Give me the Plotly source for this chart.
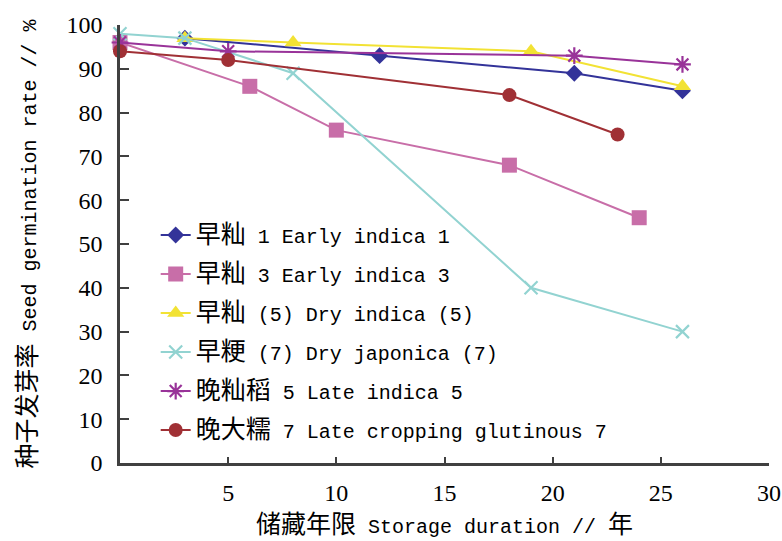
import plotly.graph_objects as go

# Storage duration (years) and seed germination rate (%) per cultivar
years_e1 = [3, 12, 21, 26]
rate_e1 = [97, 93, 89, 85]

years_e3 = [0, 6, 10, 18, 24]
rate_e3 = [96, 86, 76, 68, 56]

years_d5 = [3, 8, 19, 26]
rate_d5 = [97, 96, 94, 86]

years_dj7 = [0, 3, 8, 19, 26]
rate_dj7 = [98, 97, 89, 40, 30]

years_l5 = [0, 5, 21, 26]
rate_l5 = [96, 94, 93, 91]

years_lg7 = [0, 5, 18, 23]
rate_lg7 = [94, 92, 84, 75]

x_ticks = [5, 10, 15, 20, 25, 30]
y_ticks = [0, 10, 20, 30, 40, 50, 60, 70, 80, 90, 100]

LATIN = "Liberation Mono"
CJK_FONT = "Noto Sans CJK SC"
SERIF = "Liberation Serif"


def cjk(s, size=25):
    return f'<span style="font-size:{size}px">{s}</span>'


series = [
    (years_e1, rate_e1, cjk("早籼") + " 1 Early indica 1", "#333399",
     dict(symbol="diamond", size=13)),
    (years_e3, rate_e3, cjk("早籼") + " 3 Early indica 3", "#C86EA8",
     dict(symbol="square", size=15)),
    (years_d5, rate_d5, cjk("早籼") + " (5) Dry indica (5)", "#F2E234",
     dict(symbol="triangle-up", size=15)),
    (years_dj7, rate_dj7, cjk("早粳") + " (7) Dry japonica (7)", "#92D3D1",
     dict(symbol="x-thin", size=13, line=dict(width=2.2, color="#92D3D1"))),
    (years_l5, rate_l5, cjk("晚籼稻") + " 5 Late indica 5", "#993399",
     dict(symbol="asterisk", size=14, line=dict(width=2.2, color="#993399"))),
    (years_lg7, rate_lg7, cjk("晚大糯") + " 7 Late cropping glutinous 7", "#A03035",
     dict(symbol="circle", size=14)),
]

fig = go.Figure()
for i, (xs, ys, name, color, marker) in enumerate(series):
    fig.add_trace(go.Scatter(
        x=xs, y=ys, name=name, mode="lines+markers",
        line=dict(color=color, width=2),
        marker=dict(color=color, **marker),
        cliponaxis=False,
        legendgroup=f"g{i}",
    ))

fig.update_layout(
    width=782, height=541,
    margin=dict(l=120, r=13, t=25, b=78),
    paper_bgcolor="white", plot_bgcolor="white",
    font=dict(family=f"{LATIN}, {CJK_FONT}", size=20, color="black"),
    showlegend=True,
    legend=dict(
        x=0.055, y=0.565, xanchor="left", yanchor="top",
        bgcolor="rgba(0,0,0,0)", borderwidth=0,
        traceorder="grouped", tracegroupgap=10,
        font=dict(family=f"{LATIN}, {CJK_FONT}", size=20, color="black"),
    ),
    xaxis=dict(
        range=[0, 30], tickvals=x_ticks, ticktext=[str(v) for v in x_ticks],
        ticks="inside", ticklen=6, tickwidth=2, tickcolor="#404040",
        showline=True, linewidth=2.5, linecolor="#404040",
        showgrid=False, zeroline=False, automargin=False,
        tickfont=dict(family=SERIF, size=24, color="black"),
        ticklabelstandoff=6,
        title=dict(text=cjk("储藏年限") + " Storage duration // " + cjk("年"),
                   font=dict(family=f"{LATIN}, {CJK_FONT}", size=20, color="black"),
                   standoff=16),
    ),
    yaxis=dict(
        range=[0, 100], tickvals=y_ticks,
        ticks="inside", ticklen=9, tickwidth=2, tickcolor="#404040",
        showline=True, linewidth=2.5, linecolor="#404040",
        showgrid=False, zeroline=False, automargin=False,
        tickfont=dict(family=SERIF, size=24, color="black"),
        ticklabelstandoff=10,
        title=dict(text=cjk("种子发芽率") + " Seed germination rate // %",
                   font=dict(family=f"{LATIN}, {CJK_FONT}", size=20, color="black"),
                   standoff=25),
    ),
)

fig.write_html("out.html")
